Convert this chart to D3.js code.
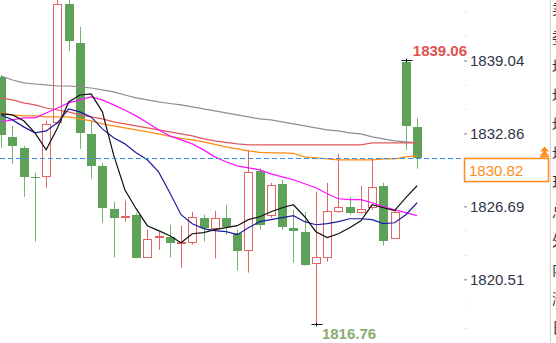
<!DOCTYPE html>
<html>
<head>
<meta charset="utf-8">
<script src="https://cdn.jsdelivr.net/npm/d3@7"></script>
<style>
  body { margin: 0; background: #fff; }
  svg { display: block; font-family: "Liberation Sans", Arial, sans-serif; }
</style>
</head>
<body>
<div id="chart"></div>
<script>
// Candle data (one per bar, left to right)
const opens  = [1837.65, 1832.57, 1831.64, 1829.19, 1829.19, 1833.76, 1843.82, 1840.52, 1832.83, 1830.12,
                1826.49, 1825.73, 1825.98, 1822.35, 1824.04, 1824.12, 1823.53, 1823.61, 1825.73, 1824.80,
                1825.73, 1824.46, 1822.94, 1829.70, 1825.90, 1828.60, 1824.88, 1824.54, 1821.84, 1822.35,
                1826.23, 1826.66, 1826.15, 1826.57, 1828.43, 1823.95, 1838.91, 1833.42];
const highs  = [1837.81, 1833.50, 1831.81, 1829.53, 1833.93, 1844.60, 1844.60, 1841.87, 1834.01, 1830.38,
                1827.08, 1827.17, 1826.15, 1824.71, 1824.54, 1825.13, 1825.05, 1826.23, 1825.98, 1826.32,
                1826.82, 1824.71, 1831.47, 1829.95, 1828.68, 1828.94, 1826.40, 1826.23, 1827.93, 1828.68,
                1831.14, 1827.50, 1828.43, 1830.71, 1828.68, 1826.49, 1839.06, 1834.18];
const lows   = [1831.64, 1830.29, 1827.50, 1823.70, 1828.26, 1833.70, 1839.84, 1831.56, 1829.02, 1825.30,
                1822.35, 1825.39, 1822.27, 1822.35, 1823.02, 1822.35, 1821.49, 1823.44, 1823.70, 1822.27,
                1824.29, 1821.25, 1821.08, 1824.71, 1825.73, 1824.71, 1821.92, 1821.67, 1816.76, 1822.01,
                1826.15, 1825.98, 1826.07, 1826.40, 1823.36, 1823.95, 1831.47, 1829.87];
const closes = [1832.74, 1831.81, 1829.19, 1829.11, 1833.67, 1843.82, 1840.69, 1832.91, 1830.12, 1826.57,
                1825.73, 1825.90, 1822.35, 1823.95, 1824.20, 1823.61, 1823.70, 1825.81, 1824.88, 1825.73,
                1824.96, 1822.94, 1829.62, 1825.13, 1828.52, 1824.96, 1824.63, 1821.75, 1822.43, 1826.32,
                1826.66, 1826.15, 1826.49, 1828.35, 1823.78, 1826.23, 1833.50, 1830.82];

// Moving average lines
const maBlack   = [1834.52, 1834.43, 1833.93, 1832.91, 1831.47, 1833.33, 1835.53, 1836.12, 1836.21, 1834.69,
                   1831.05, 1828.09, 1826.49, 1825.05, 1824.63, 1824.20, 1823.61, 1824.37, 1824.46, 1824.71,
                   1824.88, 1825.05, 1825.56, 1825.81, 1826.23, 1826.57, 1826.82, 1825.81, 1824.54, 1824.04,
                   1824.37, 1824.88, 1825.47, 1826.82, 1826.57, 1826.32, 1827.42, 1828.43];
const maNavy    = [1834.43, 1834.01, 1833.42, 1832.91, 1833.08, 1833.76, 1834.94, 1834.69, 1834.26, 1833.25,
                   1832.49, 1831.98, 1831.22, 1830.63, 1829.61, 1827.84, 1825.98, 1825.22, 1824.80, 1824.63,
                   1824.54, 1824.29, 1824.88, 1825.39, 1825.56, 1825.73, 1825.90, 1825.39, 1825.13, 1825.22,
                   1825.39, 1825.64, 1825.64, 1825.56, 1825.22, 1825.30, 1825.98, 1826.99];
const maMagenta = [1833.84, 1834.01, 1834.18, 1834.18, 1834.60, 1835.02, 1835.45, 1835.70, 1835.95, 1835.70,
                   1835.28, 1834.85, 1834.35, 1833.76, 1833.17, 1832.66, 1832.32, 1831.98, 1831.47, 1830.88,
                   1830.46, 1830.12, 1829.95, 1829.78, 1829.44, 1829.19, 1828.94, 1828.60, 1828.26, 1827.76,
                   1827.33, 1827.25, 1827.25, 1826.99, 1826.66, 1826.40, 1826.15, 1825.90];
const maOrange  = [1834.60, 1834.43, 1834.35, 1834.35, 1834.26, 1834.26, 1834.26, 1834.09, 1833.93, 1833.67,
                   1833.50, 1833.33, 1833.17, 1833.00, 1832.83, 1832.62, 1832.45, 1832.32, 1832.15, 1831.94,
                   1831.73, 1831.56, 1831.39, 1831.26, 1831.22, 1831.22, 1831.18, 1830.88, 1830.80, 1830.71,
                   1830.63, 1830.63, 1830.63, 1830.63, 1830.71, 1830.71, 1830.88, 1830.97];
const maRed     = [1835.87, 1835.70, 1835.45, 1835.28, 1835.02, 1834.85, 1834.69, 1834.43, 1834.26, 1834.09,
                   1833.84, 1833.67, 1833.50, 1833.33, 1833.17, 1833.00, 1832.83, 1832.66, 1832.40, 1832.23,
                   1832.11, 1831.98, 1831.90, 1831.90, 1831.90, 1831.90, 1831.90, 1831.90, 1831.90, 1831.90,
                   1831.90, 1831.90, 1831.90, 1832.07, 1832.07, 1832.07, 1832.07, 1832.07];
const maGray    = [1837.73, 1837.39, 1837.14, 1837.05, 1836.97, 1836.88, 1836.88, 1836.80, 1836.71, 1836.55,
                   1836.38, 1836.12, 1835.87, 1835.70, 1835.53, 1835.40, 1835.28, 1835.11, 1834.94, 1834.77,
                   1834.60, 1834.43, 1834.26, 1834.09, 1834.01, 1833.84, 1833.67, 1833.50, 1833.33, 1833.17,
                   1833.08, 1832.91, 1832.83, 1832.57, 1832.40, 1832.23, 1832.15, 1832.07];

// Axis ticks and labels
const tickValues = [1820.51, 1826.69, 1832.86, 1839.04];
const lastPrice = 1830.82;
const highMark = 1839.06;
const lowMark = 1816.76;
const sideChars = ["卖", "委", "均", "均", "均", "均", "现", "总", "外", "内", "涨", "日"];

const width = 556, height = 343;
const green = "#5ea25a", greenWick = "#78b574", red = "#e36464";

const svg = d3.select("#chart")
    .append("svg")
    .attr("width", width)
    .attr("height", height);

// Scales
const xScale = d3.scaleBand()
    .domain(d3.range(opens.length))
    .range([-4.4, 422.7]);
const cx = i => xScale(i) + xScale.bandwidth() / 2;

const yScale = d3.scaleLinear()
    .domain([1820.51, 1839.04])
    .range([279.3, 60.5]);

// Candles
const candles = svg.append("g");
opens.forEach((o, i) => {
    const c = closes[i];
    const up = c > o;
    const x = Math.round(cx(i));
    candles.append("line")
        .attr("x1", x + 0.5).attr("x2", x + 0.5)
        .attr("y1", yScale(highs[i])).attr("y2", yScale(lows[i]))
        .attr("stroke", up ? red : greenWick)
        .attr("stroke-width", 1);
    const top = Math.round(yScale(Math.max(o, c)));
    const h = Math.max(1, Math.round(yScale(Math.min(o, c))) - top);
    if (up) {
        candles.append("rect")
            .attr("x", x - 3.5).attr("y", top + 0.5)
            .attr("width", 8).attr("height", Math.max(1, h - 1))
            .attr("fill", "#fff")
            .attr("stroke", red);
    } else {
        candles.append("rect")
            .attr("x", x - 4).attr("y", top)
            .attr("width", 9).attr("height", h)
            .attr("fill", green);
    }
});

// Moving average lines
const line = d3.line()
    .x((d, i) => cx(i))
    .y(d => yScale(d));

[[maGray, "#8e8e8e"], [maRed, "#de5a5a"], [maOrange, "#ff8a14"],
 [maMagenta, "#ff10ff"], [maNavy, "#1e1e9e"], [maBlack, "#111"]].forEach(([vals, col]) => {
    svg.append("path")
        .datum(vals)
        .attr("fill", "none")
        .attr("stroke", col)
        .attr("stroke-width", 1.2)
        .attr("d", line);
});

// Last price dashed line
const yLast = Math.round(yScale(lastPrice)) + 0.5;
svg.append("line")
    .attr("x1", 0).attr("x2", 464)
    .attr("y1", yLast).attr("y2", yLast)
    .attr("stroke", "#3a8fe6")
    .attr("stroke-dasharray", "5,3");

// High / low markers
const hiIdx = highs.indexOf(highMark);
const loIdx = lows.indexOf(lowMark);
[[hiIdx, highMark], [loIdx, lowMark]].forEach(([i, v]) => {
    const x = Math.round(cx(i)) + 0.5, y = Math.round(yScale(v)) + 0.5;
    svg.append("line").attr("x1", x - 5).attr("x2", x + 6).attr("y1", y).attr("y2", y)
        .attr("stroke", "#111");
    svg.append("line").attr("x1", x).attr("x2", x).attr("y1", y - 2).attr("y2", y + 2)
        .attr("stroke", "#111");
});

svg.append("text")
    .attr("x", cx(hiIdx) + 7)
    .attr("y", yScale(highMark) - 4)
    .attr("fill", "#e05252")
    .style("font-size", "15px")
    .style("font-weight", "bold")
    .text(d3.format(".2f")(highMark));

svg.append("text")
    .attr("x", cx(loIdx) + 6)
    .attr("y", yScale(lowMark) + 15)
    .attr("fill", "#86ad70")
    .style("font-size", "15px")
    .style("font-weight", "bold")
    .text(d3.format(".2f")(lowMark));

// Minor tick dots on price axis
const step = (tickValues[1] - tickValues[0]) / 3;
const minor = d3.range(-3, 12).map(k => tickValues[0] + k * step);
svg.append("g")
    .attr("transform", "translate(465.5,0)")
    .call(d3.axisRight(yScale).tickValues(minor).tickSize(1).tickFormat(""))
    .call(g => g.select(".domain").remove())
    .call(g => g.selectAll("line").attr("stroke", "#c4c4c4"));

// Price axis
svg.append("g")
    .attr("transform", "translate(464,0)")
    .call(d3.axisRight(yScale).tickValues(tickValues).tickSize(3).tickPadding(3).tickFormat(d3.format(".2f")))
    .call(g => g.select(".domain").remove())
    .call(g => g.selectAll("line").attr("stroke", "#888"))
    .call(g => g.selectAll("text")
        .attr("fill", "#2f3545")
        .style("font-size", "15px")
        .style("font-family", "'Liberation Sans', Arial, sans-serif"));

// Last price box
svg.append("rect")
    .attr("x", 464.5).attr("y", yLast)
    .attr("width", 84).attr("height", 23)
    .attr("fill", "#fff")
    .attr("stroke", "#ff8c1a")
    .attr("stroke-width", 1.5);
svg.append("text")
    .attr("x", 469).attr("y", yLast + 17)
    .attr("fill", "#ff8c1a")
    .style("font-size", "15px")
    .text(d3.format(".2f")(lastPrice));

// Double arrow marker
[0, 4].forEach(dy => {
    svg.append("path")
        .attr("d", `M540,${yLast - 3 - dy} L544.5,${yLast - 8 - dy} L549,${yLast - 3 - dy} Z`)
        .attr("fill", "#ff8c1a");
});
svg.append("rect").attr("x", 540).attr("y", yLast - 3).attr("width", 9).attr("height", 2).attr("fill", "#ff8c1a");

// Right side panel edge
svg.append("line")
    .attr("x1", 550.5).attr("x2", 550.5)
    .attr("y1", 0).attr("y2", height)
    .attr("stroke", "#d4d4d4");
sideChars.forEach((ch, i) => {
    svg.append("text")
        .attr("x", 552)
        .attr("y", 14 + i * 29)
        .attr("fill", "#333")
        .style("font-size", "15px")
        .style("font-family", "'Noto Sans CJK SC', sans-serif")
        .text(ch);
});
</script>
</body>
</html>
